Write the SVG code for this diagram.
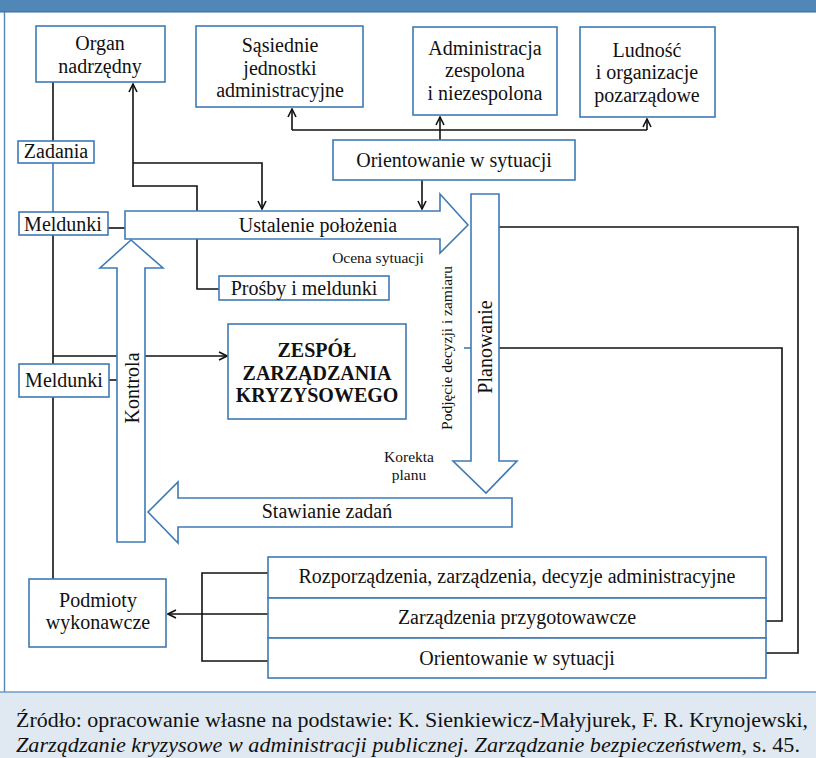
<svg xmlns="http://www.w3.org/2000/svg" width="816" height="758" viewBox="0 0 816 758" font-family="'Liberation Serif', 'Times New Roman', serif">
  <style>
    .box { fill: #ffffff; stroke: #3f7ab5; stroke-width: 1.6; }
    .big { fill: #ffffff; stroke: #3f7ab5; stroke-width: 1.6; stroke-linejoin: miter; }
    .ln { fill: none; stroke: #111111; stroke-width: 1.6; }
    .bl { fill: none; stroke: #3f7ab5; stroke-width: 1.6; }
    text { font-family: "Liberation Serif", "Times New Roman", serif; fill: #111111; }
    .t { font-size: 20px; text-anchor: middle; }
    .s { font-size: 15.5px; text-anchor: middle; }
    .b { font-size: 20px; font-weight: bold; text-anchor: middle; }
    .cap { font-size: 20px; }
  </style>
  <defs>
    <marker id="ah" viewBox="0 0 10 10" refX="9" refY="5" markerWidth="10" markerHeight="10" markerUnits="userSpaceOnUse" orient="auto">
      <path d="M1,1 L9,5 L1,9" fill="none" stroke="#111111" stroke-width="1.6"/>
    </marker>
  </defs>

  <!-- page background, header band, frame and caption area -->
  <rect x="0" y="0" width="816" height="758" fill="#ffffff"/>
  <rect x="0" y="0" width="816" height="12" fill="#5087b6"/>
  <line x1="0" y1="12" x2="816" y2="12" stroke="#2f6aa2" stroke-width="1.2"/>
  <line x1="4.5" y1="12" x2="4.5" y2="692" stroke="#4f86b5" stroke-width="1.4"/>
  <rect x="0" y="692" width="816" height="66" fill="#e0e9f2"/>
  <line x1="0" y1="692" x2="816" y2="692" stroke="#6b9bc8" stroke-width="1.4"/>

  <!-- connectors -->
  <g id="connectors">
    <!-- left spine -->
    <line class="ln" x1="53" y1="82" x2="53" y2="141"/>
    <line class="bl" x1="53" y1="163" x2="53" y2="212"/>
    <line class="ln" x1="53" y1="235" x2="53" y2="579"/>
    <line class="ln" x1="108" y1="228" x2="125" y2="228"/>
    <line class="ln" x1="109" y1="380" x2="117" y2="380"/>
    <line class="ln" x1="53" y1="356" x2="117" y2="356"/>
    <line class="ln" x1="145" y1="356" x2="227" y2="356" marker-end="url(#ah)"/>

    <!-- Organ nadrzędny links -->
    <line class="ln" x1="133" y1="187" x2="133" y2="84" marker-end="url(#ah)"/>
    <path class="ln" d="M133,163 H262 V209" marker-end="url(#ah)"/>
    <path class="ln" d="M133,186 H197 V289 H219"/>

    <!-- Orientowanie w sytuacji (top) links -->
    <path class="ln" d="M292,130 H647"/>
    <line class="ln" x1="292" y1="130" x2="292" y2="109" marker-end="url(#ah)"/>
    <line class="ln" x1="440" y1="140" x2="440" y2="117" marker-end="url(#ah)"/>
    <line class="ln" x1="647" y1="130" x2="647" y2="119" marker-end="url(#ah)"/>
    <line class="ln" x1="422" y1="180" x2="422" y2="209" marker-end="url(#ah)"/>

    <!-- Planowanie feedback loops -->
    <path class="ln" d="M499,227 H798 V653 H766"/>
    <path class="ln" d="M499,348 H782 V621 H766"/>
    <line class="bl" x1="464" y1="348" x2="471" y2="348"/>

    <!-- orders to executors -->
    <path class="ln" d="M268,573 H202 V661 H268"/>
    <line class="ln" x1="268" y1="614" x2="168" y2="614" marker-end="url(#ah)"/>
  </g>

  <!-- big process arrows -->
  <g id="ustalenie">
    <path class="big" d="M125,211 H440 V194 L468,225 L440,253 V239 H125 Z"/>
    <text class="t" x="318" y="232">Ustalenie położenia</text>
  </g>
  <g id="planowanie">
    <path class="big" d="M471,194 H499 V461 H517 L486,493 L453,461 H471 Z"/>
    <text class="t" transform="translate(492,347) rotate(-90)">Planowanie</text>
  </g>
  <g id="stawianie">
    <path class="big" d="M512,498 V527 H178 V543 L148,512 L178,482 V498 Z"/>
    <text class="t" x="327" y="518">Stawianie zadań</text>
  </g>
  <g id="kontrola">
    <path class="big" d="M117,542 V268 H100 L131,240 L163,268 H145 V542 Z"/>
    <text class="t" transform="translate(139,388) rotate(-90)">Kontrola</text>
  </g>

  <!-- small labels along the cycle -->
  <g id="labels">
    <text class="s" x="378" y="263">Ocena sytuacji</text>
    <text class="s" transform="translate(452,348) rotate(-90)">Podjęcie decyzji i zamiaru</text>
    <text class="s" x="409" y="462">Korekta</text>
    <text class="s" x="409" y="480">planu</text>
  </g>

  <!-- nodes -->
  <g id="organ">
    <rect class="box" x="36" y="26" width="129" height="56"/>
    <text class="t" x="100" y="50">Organ</text>
    <text class="t" x="100" y="73">nadrzędny</text>
  </g>
  <g id="sasiednie">
    <rect class="box" x="196" y="26" width="167" height="81"/>
    <text class="t" x="280" y="52">Sąsiednie</text>
    <text class="t" x="280" y="75">jednostki</text>
    <text class="t" x="280" y="97">administracyjne</text>
  </g>
  <g id="administracja">
    <rect class="box" x="413" y="27" width="144" height="88"/>
    <text class="t" x="485" y="55">Administracja</text>
    <text class="t" x="485" y="77">zespolona</text>
    <text class="t" x="485" y="100">i niezespolona</text>
  </g>
  <g id="ludnosc">
    <rect class="box" x="580" y="27" width="135" height="90"/>
    <text class="t" x="647" y="57">Ludność</text>
    <text class="t" x="647" y="79">i organizacje</text>
    <text class="t" x="647" y="102">pozarządowe</text>
  </g>
  <g id="orientowanie-top">
    <rect class="box" x="333" y="140" width="242" height="40"/>
    <text class="t" x="454" y="167">Orientowanie w sytuacji</text>
  </g>
  <g id="zadania">
    <rect class="box" x="18" y="141" width="76" height="22"/>
    <text class="t" x="56" y="158">Zadania</text>
  </g>
  <g id="meldunki-1">
    <rect class="box" x="19" y="212" width="89" height="23"/>
    <text class="t" x="63" y="231">Meldunki</text>
  </g>
  <g id="prosby">
    <rect class="box" x="219" y="276" width="170" height="24"/>
    <text class="t" x="304" y="295">Prośby i meldunki</text>
  </g>
  <g id="meldunki-2">
    <rect class="box" x="19" y="364" width="90" height="33"/>
    <text class="t" x="64" y="387">Meldunki</text>
  </g>
  <g id="zespol">
    <rect class="box" x="228" y="324" width="178" height="95"/>
    <text class="b" x="317" y="357">ZESPÓŁ</text>
    <text class="b" x="317" y="380">ZARZĄDZANIA</text>
    <text class="b" x="317" y="402">KRYZYSOWEGO</text>
  </g>
  <g id="podmioty">
    <rect class="box" x="29" y="579" width="137" height="68"/>
    <text class="t" x="98" y="607">Podmioty</text>
    <text class="t" x="98" y="629">wykonawcze</text>
  </g>
  <g id="dokumenty">
    <rect class="box" x="268" y="557" width="498" height="41"/>
    <text class="t" x="517" y="583">Rozporządzenia, zarządzenia, decyzje administracyjne</text>
    <rect class="box" x="268" y="598" width="498" height="40"/>
    <text class="t" x="517" y="624">Zarządzenia przygotowawcze</text>
    <rect class="box" x="268" y="638" width="498" height="40"/>
    <text class="t" x="517" y="665">Orientowanie w sytuacji</text>
  </g>

  <!-- source note -->
  <g id="zrodlo">
    <text class="cap" x="16" y="727" textLength="792" lengthAdjust="spacingAndGlyphs">Źródło: opracowanie własne na podstawie: K. Sienkiewicz-Małyjurek, F. R. Krynojewski,</text>
    <text class="cap" x="16" y="752" textLength="784" lengthAdjust="spacingAndGlyphs"><tspan font-style="italic">Zarządzanie kryzysowe w administracji publicznej. Zarządzanie bezpieczeństwem</tspan>, s. 45.</text>
  </g>
</svg>
